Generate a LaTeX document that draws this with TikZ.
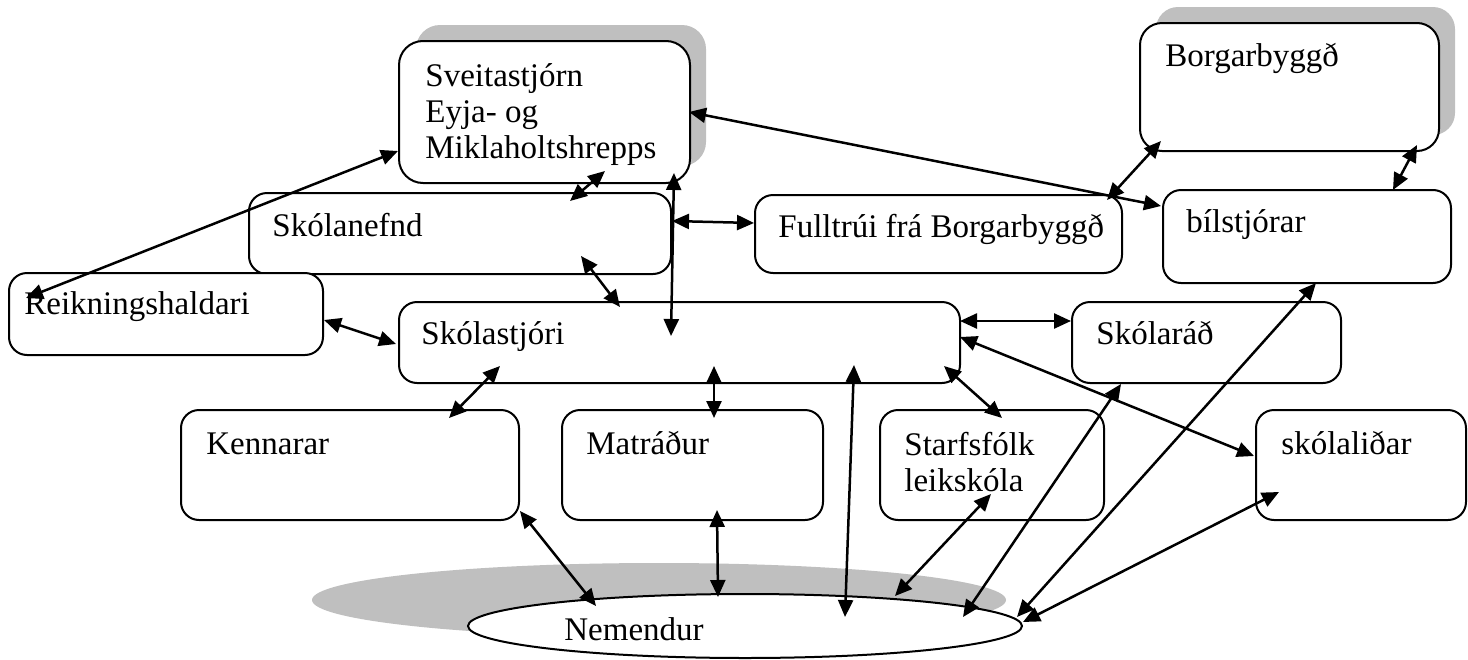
\documentclass[tikz,border=0pt]{standalone}
\usepackage{fontspec}
\setmainfont{Liberation Serif}
\usetikzlibrary{arrows.meta, fit, shapes.geometric}
\tikzset{
    orgbox/.style={draw, rounded corners=9pt, line width=1pt, inner sep=0pt, fill=white},
    shadowbox/.style={fill=gray!50, rounded corners=12pt},
    lbl/.style={anchor=base west, inner sep=0pt, align=left, font=\fontsize{16.5}{18}\selectfont},
    link/.style={{Triangle[length=8.5pt,width=7.5pt]}-{Triangle[length=8.5pt,width=7.5pt]}, line width=1.25pt},
    pupils/.style={draw, ellipse, line width=1pt, fill=white, inner sep=0pt, minimum width=277pt, minimum height=32pt} }

\begin{document}
\begin{tikzpicture}[x=0.5pt, y=-0.5pt]
	\useasboundingbox (0,0) rectangle (1468,659);
	% skuggar
	\fill[shadowbox] (416,25) rectangle (706,166);
	\fill[shadowbox, rounded corners=11pt] (1156,7) rectangle (1455,135);
	\fill[gray!50] (659,600) ellipse [x radius=173.5pt, y radius=18.5pt];
	% ----
	\node[orgbox, rounded corners=12pt, fit={(399,41) (690,183)}] (sv) {};
	\node[orgbox, fit={(249,193) (671,274)}] (skn) {};
	\node[orgbox, fit={(9,273) (323,355)}] (rek) {};
	\node[orgbox, fit={(399,302) (960,383)}] (sks) {};
	\node[orgbox, fit={(755,195) (1122,273)}] (full) {};
	\node[orgbox, rounded corners=11pt, fit={(1140,23) (1439,151)}] (borg) {};
	\node[orgbox, fit={(1163,190) (1451,283)}] (bil) {};
	\node[orgbox, fit={(1072,302) (1341,383)}] (skr) {};
	\node[orgbox, fit={(181,410) (519,520)}] (kenn) {};
	\node[orgbox, fit={(562,410) (823,520)}] (mat) {};
	\node[orgbox, fit={(880,410) (1104,520)}] (starf) {};
	\node[orgbox, fit={(1256,410) (1466,520)}] (skl) {};
	\node[pupils] (nem) at (745,626) {};
	% ----
	\node[lbl] (sv-t) at ([shift={(27,118)}]sv.north west) {Sveitastjórn\\Eyja- og\\Miklaholtshrepps};
	\node[lbl] (skn-t) at ([shift={(24,44)}]skn.north west) {Skólanefnd};
	\node[lbl] (rek-t) at ([shift={(16,42)}]rek.north west) {Reikningshaldari};
	\node[lbl] (sks-t) at ([shift={(23,43)}]sks.north west) {Skólastjóri};
	\node[lbl] (full-t) at ([shift={(24,43)}]full.north west) {Fulltrúi frá Borgarbyggð};
	\node[lbl] (borg-t) at ([shift={(26,44)}]borg.north west) {Borgarbyggð};
	\node[lbl] (bil-t) at ([shift={(24,43)}]bil.north west) {bílstjórar};
	\node[lbl] (skr-t) at ([shift={(25,43)}]skr.north west) {Skólaráð};
	\node[lbl] (kenn-t) at ([shift={(26,45)}]kenn.north west) {Kennarar};
	\node[lbl] (mat-t) at ([shift={(25,45)}]mat.north west) {Matráður};
	\node[lbl] (starf-t) at ([shift={(25,82)}]starf.north west) {Starfsfólk\\leikskóla};
	\node[lbl] (skl-t) at ([shift={(26,45)}]skl.north west) {skólaliðar};
	\node[lbl] (nem-t) at ([shift={(-181,14)}]nem.center) {Nemendur};
	% ----
	\draw[link] ([shift={(18,26)}]rek.north west) -- ([shift={(0,111)}]sv.north west);
	\draw[link] ([shift={(207,131)}]sv.north west) -- ([shift={(322,9)}]skn.north west);
	\draw[link] ([shift={(291,72)}]sv.north west) -- ([shift={(-1,17)}]bil.north west);
	\draw[link] ([shift={(276,133)}]sv.north west) -- ([shift={(273,35)}]sks.north west);
	\draw[link] ([shift={(424,29)}]skn.north west) -- ([shift={(0,29)}]full.north west);
	\draw[link] ([shift={(333,64)}]skn.north west) -- ([shift={(222,6)}]sks.north west);
	\draw[link] ([shift={(316,48)}]rek.north west) -- ([shift={(-2,43)}]sks.north west);
	\draw[link] ([shift={(353,6)}]full.north west) -- ([shift={(22,119)}]borg.north west);
	\draw[link] ([shift={(278,123)}]borg.north west) -- ([shift={(231,1)}]bil.north west);
	\draw[link] ([shift={(562,20)}]sks.north west) -- ([shift={(0,20)}]skr.north west);
	\draw[link] ([shift={(102,65)}]sks.north west) -- ([shift={(269,9)}]kenn.north west);
	\draw[link] ([shift={(316,65)}]sks.north west) -- ([shift={(153,9)}]mat.north west);
	\draw[link] ([shift={(340,102)}]kenn.north west) -- ([shift={(-149,-20)}]nem.center);
	\draw[link] ([shift={(156,101)}]mat.north west) -- ([shift={(-27,-29)}]nem.center);
	\draw[link] ([shift={(456,64)}]sks.north west) -- ([shift={(100,-9)}]nem.center);
	\draw[link] ([shift={(546,65)}]sks.north west) -- ([shift={(123,9)}]starf.north west);
	\draw[link] ([shift={(562,36)}]sks.north west) -- ([shift={(-1,47)}]skl.north west);
	\draw[link] ([shift={(112,85)}]starf.north west) -- ([shift={(150,-30)}]nem.center);
	\draw[link] ([shift={(50,83)}]skr.north west) -- ([shift={(218,-9)}]nem.center);
	\draw[link] ([shift={(154,94)}]bil.north west) -- ([shift={(272,-9)}]nem.center);
	\draw[link] ([shift={(24,83)}]skl.north west) -- ([shift={(278,-4)}]nem.center);
\end{tikzpicture}
\end{document}
